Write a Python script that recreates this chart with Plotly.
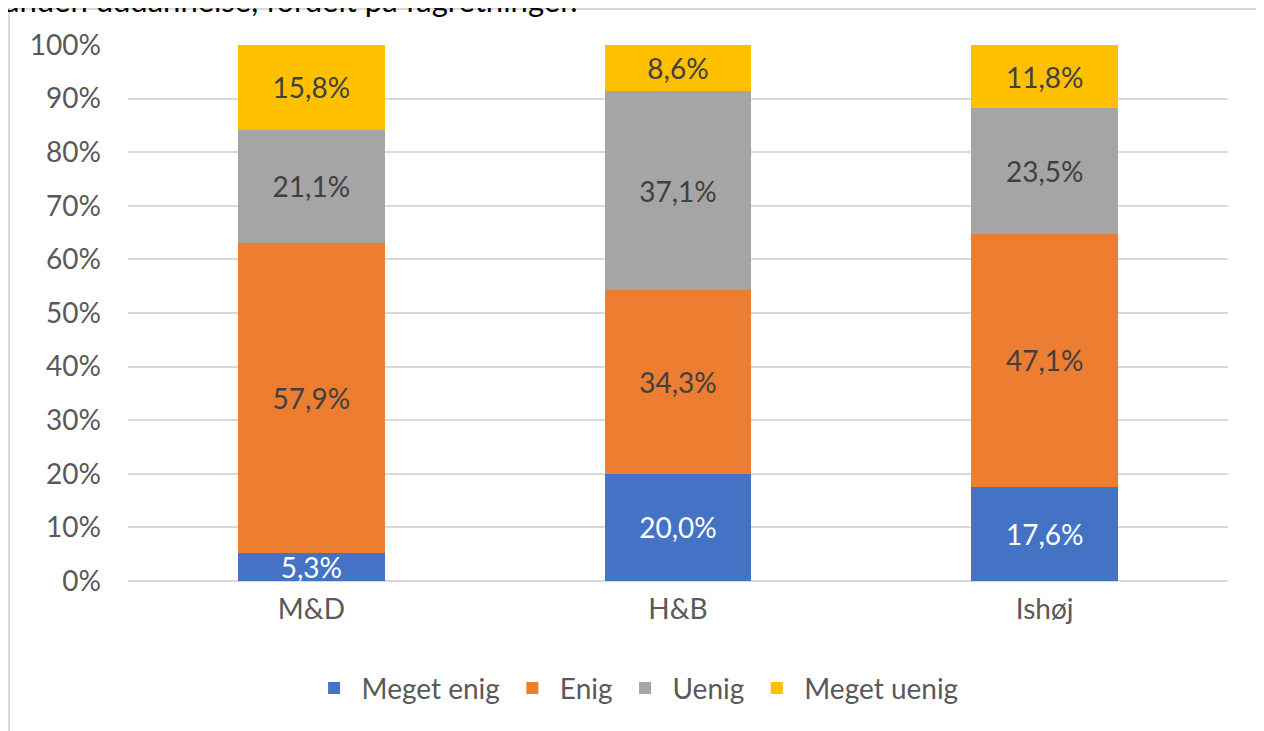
import plotly.graph_objects as go

categories = ['M&D', 'H&B', 'Ishøj']
series_names = ['Meget enig', 'Enig', 'Uenig', 'Meget uenig']
meget_enig = [5.3, 20.0, 17.6]
enig = [57.9, 34.3, 47.1]
uenig = [21.1, 37.1, 23.5]
meget_uenig = [15.8, 8.6, 11.8]
y_ticks = [0, 10, 20, 30, 40, 50, 60, 70, 80, 90, 100]

colors = ['#4472C4', '#ED7D31', '#A5A5A5', '#FFC000']
label_colors = ['#FFFFFF', '#404040', '#404040', '#404040']
FONT = 'Lato'
FS = 28

# page body has an 8px margin, so the figure is a bit smaller and shifted
W, H = 1256, 723
L, T, PW, PH = 120, 37, 1100, 536


def fmt(v):
    return '{:.1f}%'.format(v).replace('.', ',')


fig = go.Figure()
for name, vals, col, lcol in zip(series_names, [meget_enig, enig, uenig, meget_uenig], colors, label_colors):
    fig.add_trace(go.Bar(
        name=name, x=categories, y=vals,
        marker=dict(color=col, line=dict(width=0)),
        text=[fmt(v) for v in vals],
        textposition='inside', insidetextanchor='middle',
        textfont=dict(family=FONT, size=FS, color=lcol),
        constraintext='none', cliponaxis=False,
    ))

fig.update_layout(
    barmode='stack', barnorm='percent', bargap=0.6,
    width=W, height=H,
    margin=dict(l=L, r=W - L - PW, t=T, b=H - T - PH, autoexpand=False),
    paper_bgcolor='white', plot_bgcolor='white',
    font=dict(family=FONT, color='#595959', size=FS),
    showlegend=True,
    legend=dict(orientation='h', x=0.461, xanchor='center', y=-0.2, yanchor='middle',
                font=dict(family=FONT, size=FS, color='#595959'),
                traceorder='normal', itemwidth=45),
    xaxis=dict(showgrid=False, showline=False, ticks='', automargin=False,
               ticklabelstandoff=9, tickfont=dict(size=FS, color='#595959')),
    yaxis=dict(range=[0, 100], tickvals=y_ticks, ticktext=['{}%'.format(t) for t in y_ticks],
               showgrid=True, automargin=False,
               gridcolor='#D9D9D9', gridwidth=2, zeroline=True, zerolinecolor='#D9D9D9',
               zerolinewidth=2, ticks='', ticklabelstandoff=26,
               tickfont=dict(size=FS, color='#595959')),
    annotations=[dict(
        text='anden uddannelse, fordelt på fagretninger.', xref='paper', yref='paper',
        x=(-6 - L) / PW, xanchor='left', y=1 + (T + 8) / PH, yanchor='middle', showarrow=False,
        font=dict(family=FONT, size=31, color='#000000'),
    )],
    shapes=[dict(type='rect', xref='paper', yref='paper', x0=(1 - L) / PW, x1=1.1,
                 y0=-0.4, y1=1 + (T - 1) / PH, line=dict(color='#D9D9D9', width=2),
                 fillcolor='rgba(0,0,0,0)', layer='below')],
)

fig.write_html('out.html')
